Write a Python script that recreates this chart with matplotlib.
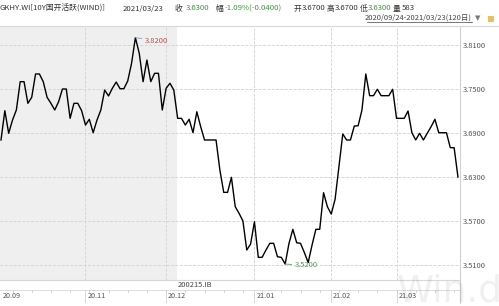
import matplotlib
matplotlib.use("Agg")
import matplotlib.pyplot as plt
from matplotlib.lines import Line2D
from matplotlib.patches import Rectangle
import numpy as np

plt.rcParams['font.family'] = ['Noto Sans CJK SC', 'DejaVu Sans']

# ---------------- data ----------------
values = [
    3.6805, 3.7204, 3.6896, 3.7077, 3.7214, 3.7600, 3.7600, 3.7305, 3.7387, 3.7705,
    3.7705, 3.7600, 3.7387, 3.7305, 3.7214, 3.7327, 3.7500, 3.7500, 3.7100, 3.7305,
    3.7305, 3.7204, 3.7009, 3.7087, 3.6904, 3.7077, 3.7214, 3.7486, 3.7405, 3.7510,
    3.7595, 3.7504, 3.7504, 3.7609, 3.7850, 3.8200, 3.7987, 3.7600, 3.7895, 3.7600,
    3.7714, 3.7714, 3.7214, 3.7510, 3.7578, 3.7486, 3.7100, 3.7100, 3.7009, 3.7087,
    3.6904, 3.7190, 3.6986, 3.6805, 3.6805, 3.6805, 3.6805, 3.6395, 3.6091, 3.6091,
    3.6296, 3.5895, 3.5805, 3.5700, 3.5305, 3.5386, 3.5691, 3.5205, 3.5205, 3.5305,
    3.5396, 3.5396, 3.5213, 3.5205, 3.5114, 3.5396, 3.5587, 3.5404, 3.5396, 3.5270,
    3.5134, 3.5373, 3.5587, 3.5587, 3.6086, 3.5895, 3.5795, 3.5996, 3.6440, 3.6886,
    3.6805, 3.6805, 3.6995, 3.6999, 3.7214, 3.7705, 3.7409, 3.7409, 3.7496, 3.7409,
    3.7409, 3.7409, 3.7496, 3.7100, 3.7100, 3.7100, 3.7200, 3.6904, 3.6805, 3.6896,
    3.6805, 3.6896, 3.6986, 3.7087, 3.6904, 3.6904, 3.6904, 3.6700, 3.6700, 3.6300,
]
month_labels = ["20.09", "20.11", "20.12", "21.01", "21.02", "21.03"]
month_index = [0, 22, 43, 66, 86, 103]
y_ticks = [3.81, 3.75, 3.69, 3.63, 3.57, 3.51]
max_label = "3.8200"
min_label = "3.5200"
bond_label = "200215.IB"
shade_end = 45.8

header_parts = [
    ("GKHY.WI[10Y国开活跃(WIND)]", 0, '#333333'),
    ("2021/03/23", 123, '#333333'),
    ("收", 175, '#333333'),
    ("3.6300", 186, '#3a9a3a'),
    ("幅", 216, '#333333'),
    ("-1.09%(-0.0400)", 225, '#3a9a3a'),
    ("开", 294, '#333333'),
    ("3.6700", 302, '#333333'),
    ("高", 327, '#333333'),
    ("3.6700", 335, '#333333'),
    ("低", 360, '#333333'),
    ("3.6300", 368, '#3a9a3a'),
    ("量", 393, '#333333'),
    ("583", 402, '#333333'),
]
range_label = "2020/09/24-2021/03/23(120日)"

W, H = 499, 306
fig = plt.figure(figsize=(W / 100, H / 100), dpi=100)
fig.patch.set_facecolor('white')

def fx(px):
    return px / W

def fy(py):
    return 1 - py / H

# ---------------- main axes ----------------
ax = fig.add_axes([0, fy(280), fx(460), (280 - 26) / H])
x = np.arange(len(values))
ax.plot(x, values, color='black', lw=1.0, zorder=3)
ax.set_xlim(-0.26, 119.53)
ax.set_ylim(3.4896, 3.8359)
ax.axvspan(-0.26, shade_end, color='#efefef', zorder=0, lw=0)

ax.yaxis.tick_right()
ax.set_yticks(y_ticks)
ax.set_yticklabels([f"{v:.4f}" for v in y_ticks])
ax.tick_params(axis='y', length=0, pad=2.2, labelsize=5.4, labelcolor='#555555')
ax.set_xticks([])
ax.grid(axis='y', color='#d6d6d6', lw=0.7, ls=(0, (3, 1.5)), zorder=1)
for mi in month_index[1:]:
    ax.axvline(mi, color='#d6d6d6', lw=0.7, ls=(0, (3, 1.5)), zorder=1)
for s in ['top', 'left']:
    ax.spines[s].set_visible(False)
ax.spines['right'].set_color('#d0d0d0')
ax.spines['right'].set_linewidth(0.8)
ax.spines['bottom'].set_color('#d8d8d8')
ax.spines['bottom'].set_linewidth(0.8)

# max / min annotations
vals = np.array(values)
imax, imin = int(vals.argmax()), int(vals.argmin())
ax.annotate(max_label, xy=(imax, vals[imax]), xytext=(imax + 2.4, vals[imax] - 0.004),
            fontsize=5.4, color='#b5524a', va='center', ha='left',
            arrowprops=dict(arrowstyle='-', color='#7fa0c0', lw=0.6, shrinkA=0, shrinkB=0))
ax.annotate(min_label, xy=(imin, vals[imin]), xytext=(imin + 2.4, vals[imin] - 0.002),
            fontsize=5.4, color='#4f9a4f', va='center', ha='left',
            arrowprops=dict(arrowstyle='-', color='#4f9a4f', lw=0.6, shrinkA=0, shrinkB=0))

# ---------------- bottom strip ----------------
ax2 = fig.add_axes([0, fy(303), fx(460), (303 - 280) / H], sharex=ax)
ax2.set_ylim(0, 1)
ax2.axis('off')
sep = (303 - 290) / 23
ax2.axhline(sep, color='#dcdcdc', lw=0.7)
ax2.axhline(0, color='#dcdcdc', lw=0.7)
ax2.text(46.1, (303 - 285) / 23, bond_label, fontsize=5.4, color='#444444',
         va='center', ha='left')
for mi, lab in zip(month_index, month_labels):
    if mi > 0:
        ax2.plot([mi, mi], [0, sep], color='#d6d6d6', lw=0.7)
    ax2.text(mi + 0.5, (303 - 296) / 23, lab, fontsize=5.2, color='#555555',
             va='center', ha='left')
for t in range(3, 120, 5):
    ax2.plot([t, t], [sep - 0.1, sep], color='#cccccc', lw=0.6)

# ---------------- header ----------------
for txt, px, col in header_parts:
    fig.text(fx(px), fy(8.5), txt, fontsize=5.6, color=col, va='center', ha='left')
fig.text(fx(472), fy(18), range_label, fontsize=5.4, color='#444444',
         va='center', ha='right')
fig.add_artist(Line2D([fx(367), fx(472)], [fy(22), fy(22)], color='#444444', lw=0.5))
fig.text(fx(475), fy(18), "▼", fontsize=5, color='#777777', va='center', ha='left',
         family=['DejaVu Sans'])
fig.add_artist(Rectangle((fx(488), fy(22)), fx(6), 6 / H, color='#e8c25a', lw=0))
fig.add_artist(Line2D([0, 1], [fy(26), fy(26)], color='#d8d8d8', lw=0.8))
fig.add_artist(Line2D([fx(460), fx(460)], [fy(280), fy(303)], color='#d0d0d0', lw=0.8))

# watermark
fig.text(fx(397), fy(301), "Win.d", fontsize=27, color='#000000', alpha=0.06,
         va='baseline', ha='left', family=['DejaVu Sans'])

fig.savefig("out.png", dpi=100)
